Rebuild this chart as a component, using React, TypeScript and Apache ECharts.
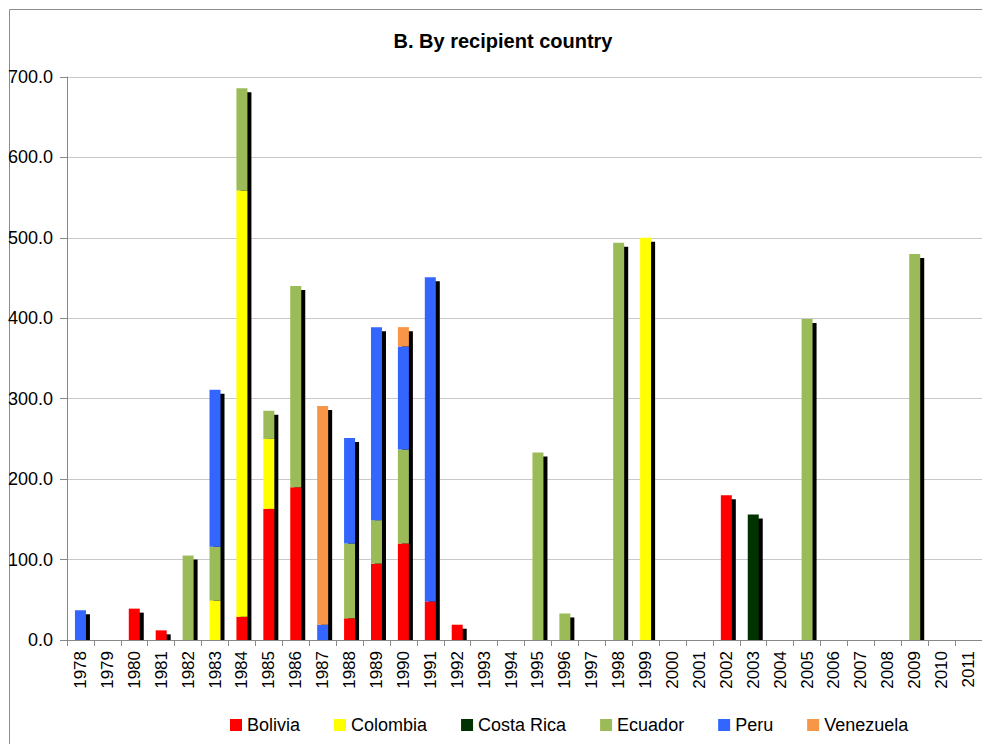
import React, { useEffect, useRef } from "react";
import * as echarts from "echarts";

const years = [
  "1978", "1979", "1980", "1981", "1982", "1983", "1984", "1985", "1986", "1987",
  "1988", "1989", "1990", "1991", "1992", "1993", "1994", "1995", "1996", "1997",
  "1998", "1999", "2000", "2001", "2002", "2003", "2004", "2005", "2006", "2007",
  "2008", "2009", "2010", "2011",
];

//               78 79  80  81   82   83   84   85   86   87  88  89   90   91  92 93 94  95  96 97   98   99 00 01   02   03 04   05 06 07 08   09 10 11
const bolivia =   [0, 0, 39, 12,   0,   0,  29, 163, 190,   0, 27, 95, 120,  48, 19, 0, 0,   0,  0, 0,   0,   0, 0, 0, 180,   0, 0,   0, 0, 0, 0,   0, 0, 0];
const colombia =  [0, 0,  0,  0,   0,  49, 530,  87,   0,   0,  0,  0,   0,   0,  0, 0, 0,   0,  0, 0,   0, 500, 0, 0,   0,   0, 0,   0, 0, 0, 0,   0, 0, 0];
const costaRica = [0, 0,  0,  0,   0,   0,   0,   0,   0,   0,  0,  0,   0,   0,  0, 0, 0,   0,  0, 0,   0,   0, 0, 0,   0, 156, 0,   0, 0, 0, 0,   0, 0, 0];
const ecuador =   [0, 0,  0,  0, 105,  67, 127,  35, 250,   0, 93, 54, 117,   0,  0, 0, 0, 233, 33, 0, 494,   0, 0, 0,   0,   0, 0, 399, 0, 0, 0, 480, 0, 0];
const peru =      [37, 0, 0,  0,   0, 195,   0,   0,   0,  19, 131, 240, 128, 403, 0, 0, 0,  0,  0, 0,   0,   0, 0, 0,   0,   0, 0,   0, 0, 0, 0,   0, 0, 0];
const venezuela = [0, 0,  0,  0,   0,   0,   0,   0,   0, 272,  0,  0,  24,   0,  0, 0, 0,   0,  0, 0,   0,   0, 0, 0,   0,   0, 0,   0, 0, 0, 0,   0, 0, 0];

const countries = ["Bolivia", "Colombia", "Costa Rica", "Ecuador", "Peru", "Venezuela"];
const countryValues = [bolivia, colombia, costaRica, ecuador, peru, venezuela];
const colors = ["#FF0000", "#FFFF00", "#003300", "#9BBB59", "#3366FF", "#F79646"];

const yTicks = [0, 100, 200, 300, 400, 500, 600, 700];

const FONT = "Arial, 'Liberation Sans', sans-serif";

export default function App() {
  const ref = useRef<HTMLDivElement>(null);

  useEffect(() => {
    if (!ref.current) return;
    const chart = echarts.init(ref.current, undefined, { renderer: "svg" });
    const totals = years.map((_, i) =>
      countryValues.reduce((s, arr) => s + arr[i], 0)
    );
    const BAR_W = 11;
    const SH_X = 4;
    const SH_Y = 4;

    const option: any = {
      animation: false,
      backgroundColor: "#ffffff",
      textStyle: { fontFamily: FONT },
      graphic: [
        {
          type: "rect",
          shape: { x: 9.5, y: 9.5, width: 1000, height: 800 },
          style: { fill: "none", stroke: "#8c8c8c", lineWidth: 1 },
          silent: true,
          z: -10,
        },
        {
          type: "text",
          x: 503,
          y: 41,
          style: {
            text: "B. By recipient country",
            fontFamily: FONT,
            fontWeight: "bold",
            fontSize: 20,
            fill: "#000",
            textAlign: "center",
            textVerticalAlign: "middle",
          },
        },
      ],
      grid: { left: 67, top: 77, width: 918, height: 563, containLabel: false },
      legend: {
        data: countries,
        left: 230,
        top: 716,
        padding: 0,
        itemWidth: 12,
        itemHeight: 12,
        itemGap: 34,
        icon: "rect",
        textStyle: { fontSize: 18, color: "#000", fontFamily: FONT },
      },
      xAxis: {
        type: "category",
        data: years,
        boundaryGap: true,
        axisLine: { show: true, lineStyle: { color: "#888888", width: 1 } },
        axisTick: { show: true, alignWithLabel: false, length: 6, lineStyle: { color: "#888888" } },
        axisLabel: {
          rotate: 90,
          interval: 0,
          fontSize: 17,
          color: "#000",
          margin: 11,
          fontFamily: FONT,
        },
        splitLine: { show: false },
      },
      yAxis: {
        type: "value",
        min: yTicks[0],
        max: yTicks[yTicks.length - 1],
        interval: 100,
        axisLine: { show: true, lineStyle: { color: "#888888", width: 1 } },
        axisTick: { show: true, inside: false, length: 7, lineStyle: { color: "#888888" } },
        axisLabel: {
          formatter: (v: number) => v.toFixed(1),
          fontSize: 18,
          color: "#000",
          margin: 14,
          fontFamily: FONT,
        },
        splitLine: { show: true, lineStyle: { color: "#c8c8c8", width: 1 } },
      },
      series: [
        {
          type: "custom",
          name: "shadow",
          z: 1,
          silent: true,
          data: years.map((_, i) => [i, totals[i]]),
          encode: { x: 0, y: 1 },
          renderItem: (params: any, api: any) => {
            const idx = api.value(0);
            const val = api.value(1);
            if (!val) return null;
            const top = api.coord([idx, val]);
            const base = api.coord([idx, 0]);
            const h = base[1] - top[1] - SH_Y;
            if (h <= 0) return null;
            return {
              type: "rect",
              shape: { x: top[0] - BAR_W / 2 + SH_X, y: top[1] + SH_Y, width: BAR_W, height: h },
              style: { fill: "#000000" },
            };
          },
        },
        ...countries.map((name, k) => ({
          type: "bar",
          name,
          stack: "total",
          barWidth: BAR_W,
          z: 2,
          itemStyle: { color: colors[k] },
          data: countryValues[k],
        })),
      ],
    };
    chart.setOption(option);
    return () => chart.dispose();
  }, []);

  return (
    <div
      ref={ref}
      style={{ position: "fixed", left: 0, top: 0, width: 982, height: 744 }}
    />
  );
}
